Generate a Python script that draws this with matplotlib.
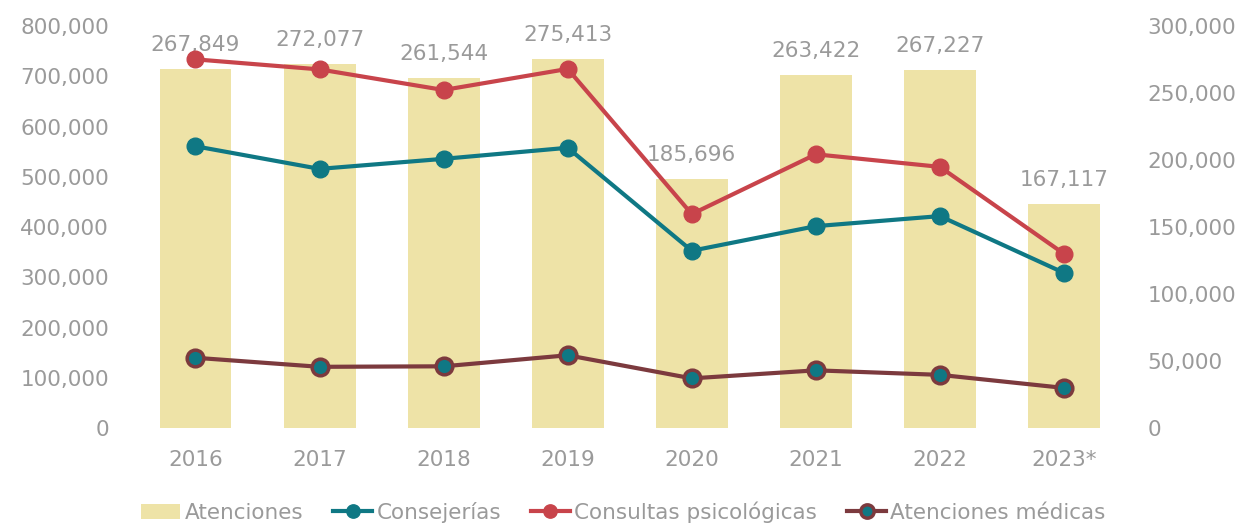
import numpy as np
import matplotlib.pyplot as plt
from matplotlib.ticker import FuncFormatter

# datos
anios = ['2016', '2017', '2018', '2019', '2020', '2021', '2022', '2023*']
atenciones = [267849, 272077, 261544, 275413, 185696, 263422, 267227, 167117]
consejerias = [561000, 516000, 536000, 558000, 353000, 402000, 422000, 309000]
consultas = [734000, 714000, 673000, 715000, 426000, 545000, 520000, 347000]
medicas = [140000, 122000, 123000, 145000, 99000, 115000, 106000, 80000]

gris = '#9a9a9a'
plt.rcParams['font.family'] = ['DejaVu Sans']

fig = plt.figure(figsize=(12.47, 5.24), dpi=100)
ax = fig.add_axes([0.112, 0.183, 0.786, 0.767])
ax2 = ax.twinx()

x = np.arange(len(anios))
miles = FuncFormatter(lambda v, p: f'{int(v):,}')

# barras en el eje derecho
barras = ax2.bar(x, atenciones, width=0.58, color='#eee3a7', label='Atenciones', zorder=1)
for xi, v in zip(x, atenciones):
    ax2.annotate(f'{v:,}', (xi, v), xytext=(0, 10), textcoords='offset points',
                 ha='center', va='bottom', fontsize=15.5, color=gris)
ax2.set_ylim(0, 300000)
ax2.set_yticks(np.arange(0, 300001, 50000))
ax2.yaxis.set_major_formatter(miles)

# lineas en el eje izquierdo, por delante de las barras
ax.set_zorder(ax2.get_zorder() + 1)
ax.patch.set_visible(False)
l1, = ax.plot(x, consejerias, color='#0f7884', lw=3, marker='o', ms=12, label='Consejerías')
l2, = ax.plot(x, consultas, color='#c8444b', lw=3, marker='o', ms=12, label='Consultas psicológicas')
l3, = ax.plot(x, medicas, color='#7c3a3e', lw=3, marker='o', ms=12, mfc='#0f7884',
              mec='#7c3a3e', mew=2.5, label='Atenciones médicas')
ax.set_ylim(0, 800000)
ax.set_yticks(np.arange(0, 800001, 100000))
ax.yaxis.set_major_formatter(miles)
ax.set_xlim(-0.45, 7.45)
ax.set_xticks(x)
ax.set_xticklabels(anios)

for a in (ax, ax2):
    for s in a.spines.values():
        s.set_visible(False)
    a.tick_params(length=0, labelsize=15.5, colors=gris)
ax.tick_params(axis='x', pad=16)
ax.tick_params(axis='y', pad=22)
ax2.tick_params(axis='y', pad=20)

fig.legend([barras, l1, l2, l3],
           ['Atenciones', 'Consejerías', 'Consultas psicológicas', 'Atenciones médicas'],
           loc='lower center', bbox_to_anchor=(0.5, -0.035), ncol=4, frameon=False,
           fontsize=15.5, labelcolor=gris, handlelength=1.8, handletextpad=0.2,
           columnspacing=1.4, markerscale=0.8)

fig.savefig('out.png', dpi=100)
